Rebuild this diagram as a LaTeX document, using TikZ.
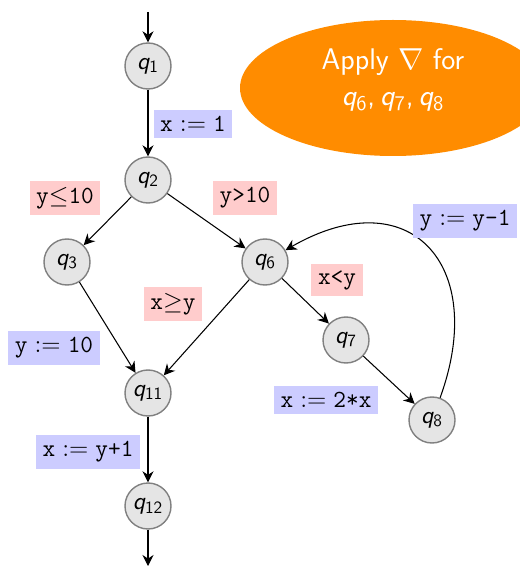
\documentclass[tikz,border=0pt]{standalone}
\usepackage{amsmath,amssymb}
\usepackage{tikz}
\usetikzlibrary{arrows.meta,positioning,shapes.geometric}
\definecolor{wideorange}{RGB}{255,140,0}
\newcommand{\qs}[1]{{\sffamily\slshape q}\textsubscript{\sffamily #1}}
\tikzset{
  st/.style={circle, draw=gray, fill=gray!20, thick, minimum size=0.92cm,
             inner sep=0pt, font=\fontsize{14}{17}\selectfont\sffamily},
  asg/.style={fill=blue!20, inner sep=3.7pt, font=\fontsize{14}{17}\selectfont\ttfamily},
  grd/.style={fill=red!20, inner sep=3.7pt, font=\fontsize{14}{17}\selectfont\ttfamily},
  tr/.style={-{Stealth[length=2.2mm,width=2.2mm]}, semithick},
  wid/.style={ellipse, fill=wideorange, minimum width=6.12cm, minimum height=2.72cm},
  wtx/.style={text=white, font=\fontsize{17}{20}\selectfont\sffamily},
}
\begin{document}
\begin{tikzpicture}
        \useasboundingbox (0,0) rectangle (10.38,-11.32);
        \node[wid] (wbox) at (7.86,-1.76) {};
        \node[wtx] (wtop) at (7.86,-1.24) {Apply $\nabla$ for};
        \node[wtx] (wbot) at (7.86,-2.04) {\qs{6},\,\qs{7},\,\qs{8}};
        \coordinate (in) at (2.96,-0.24);
        \coordinate (out) at (2.96,-11.32);
        \node[st] (q1) at (2.96,-1.32) {\qs{1}};
        \node[st] (q2) at (2.96,-3.6) {\qs{2}};
        \node[st] (q3) at (1.34,-5.24) {\qs{3}};
        \node[st] (q6) at (5.3,-5.24) {\qs{6}};
        \node[st] (q7) at (6.92,-6.8) {\qs{7}};
        \node[st] (q8) at (8.64,-8.4) {\qs{8}};
        \node[st] (q11) at (2.96,-7.86) {\qs{11}};
        \node[st] (q12) at (2.96,-10.12) {\qs{12}};
        \draw[tr] (in) -- (q1);
        \draw[tr] (q1) -- (q2);
        \draw[tr] (q2) -- (q3);
        \draw[tr] (q2) -- (q6);
        \draw[tr] (q3) -- (q11);
        \draw[tr] (q6) -- (q11);
        \draw[tr] (q6) -- (q7);
        \draw[tr] (q7) -- (q8);
        \draw[tr] (q8) to[out=70, in=30, looseness=1.7] (q6);
        \draw[tr] (q11) -- (q12);
        \draw[tr] (q12) -- (out);
        % edge labels
        \node[asg] (l1) at (3.86,-2.48) {x$\;:=\;$1};
        \node[grd] (l2) at (1.3,-3.96) {y$\leq$10};
        \node[grd] (l3) at (4.9,-3.96) {y>10};
        \node[asg] (l4) at (9.3,-4.42) {y$\;:=\;$y-1};
        \node[grd] (l5) at (6.74,-5.6) {x<y};
        \node[grd] (l6) at (3.46,-6.08) {x$\geq$y};
        \node[asg] (l7) at (1.08,-6.96) {y$\;:=\;$10};
        \node[asg] (l8) at (6.52,-8.0) {x$\;:=\;$2*x};
        \node[asg] (l9) at (1.76,-9.04) {x$\;:=\;$y+1};
      \end{tikzpicture}
\end{document}
